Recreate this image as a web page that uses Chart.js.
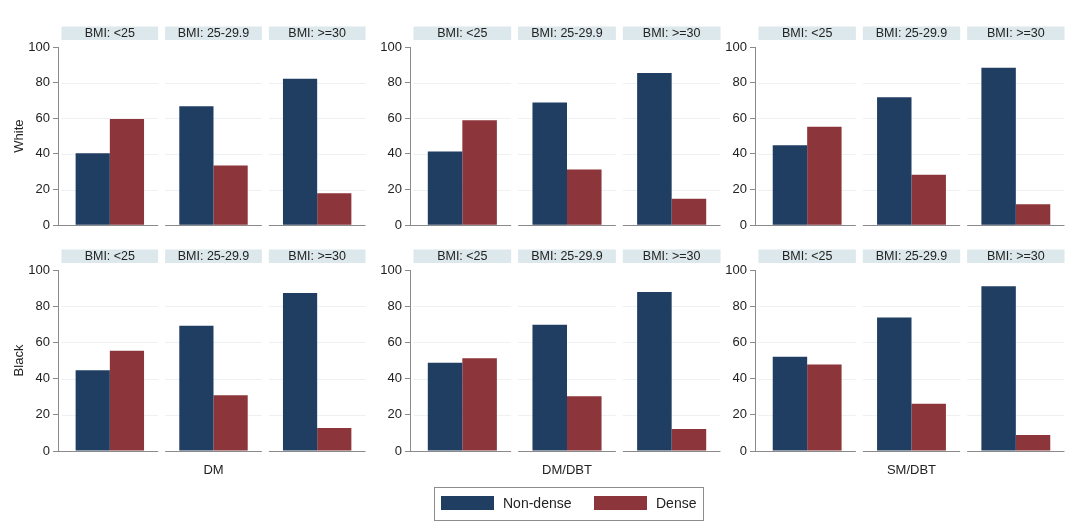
<!DOCTYPE html>
<html>
<head>
<meta charset="utf-8">
<script src="https://cdn.jsdelivr.net/npm/chart.js@4.4.1/dist/chart.umd.min.js"></script>
<style>
  body { margin: 0; background: #fff; width: 1080px; height: 524px; overflow: hidden; position: relative; font-family: "Liberation Sans", Arial, sans-serif; }
  canvas { position: absolute; }
  #leyenda { position: absolute; left: 434px; top: 487px; width: 268px; height: 32px; border: 1px solid #8c8c8c; }
  .item { position: absolute; top: 7px; font-size: 14px; color: #222; line-height: 16px; }
  .caja { display: inline-block; width: 53px; height: 14px; vertical-align: -2px; margin-right: 9px; }
</style>
</head>
<body>
<canvas id="c0"></canvas>
<canvas id="c1"></canvas>
<canvas id="c2"></canvas>
<canvas id="c3"></canvas>
<canvas id="c4"></canvas>
<canvas id="c5"></canvas>
<div id="leyenda"></div>

<script>
// datos (porcentajes)
const bmiLabels = ['BMI: <25', 'BMI: 25-29.9', 'BMI: >=30'];
const metodos = ['DM', 'DM/DBT', 'SM/DBT'];
const razas = ['White', 'Black'];
const series = ['Non-dense', 'Dense'];
const colores = ['#203d62', '#8c353b'];
const yTicks = [0, 20, 40, 60, 80, 100];

const whiteDM_nondense = [40.4, 66.8, 82.2];
const whiteDM_dense = [59.6, 33.5, 17.9];
const whiteDMDBT_nondense = [41.3, 68.8, 85.4];
const whiteDMDBT_dense = [58.9, 31.3, 14.8];
const whiteSMDBT_nondense = [44.8, 71.8, 88.3];
const whiteSMDBT_dense = [55.2, 28.3, 11.7];
const blackDM_nondense = [44.6, 69.2, 87.3];
const blackDM_dense = [55.4, 30.8, 12.7];
const blackDMDBT_nondense = [48.8, 69.8, 87.9];
const blackDMDBT_dense = [51.2, 30.3, 12.2];
const blackSMDBT_nondense = [52.1, 73.8, 91.0];
const blackSMDBT_dense = [47.8, 26.1, 8.9];

const valores = [
  [[whiteDM_nondense, whiteDM_dense], [whiteDMDBT_nondense, whiteDMDBT_dense], [whiteSMDBT_nondense, whiteSMDBT_dense]],
  [[blackDM_nondense, blackDM_dense], [blackDMDBT_nondense, blackDMDBT_dense], [blackSMDBT_nondense, blackSMDBT_dense]]
];

// posicion de cada grafico (columna / fila)
const columnas = [
  { left: 0, yw: 58, width: 369 },
  { left: 350, yw: 60, width: 374 },
  { left: 695, yw: 60, width: 373 }
];
const filas = [
  { top: 20, height: 216, padTop: 27, xh: 8 },
  { top: 242, height: 244, padTop: 28, xh: 35 }
];

const fuente = '"Liberation Sans", Arial, sans-serif';

// dibuja las franjas de titulo, grilla y linea base de cada panel
const panelesPlugin = {
  id: 'paneles',
  beforeDatasetsDraw(chart) {
    const ctx = chart.ctx;
    const x = chart.scales.x;
    const y = chart.scales.y;
    const area = chart.chartArea;
    const catW = x.width / bmiLabels.length;
    const inset = 3.5;
    ctx.save();
    bmiLabels.forEach((lab, i) => {
      const c = x.getPixelForValue(i);
      const l = c - catW / 2 + inset;
      const r = c + catW / 2 - inset;
      // grilla suave
      ctx.strokeStyle = '#eef1f3';
      ctx.lineWidth = 1;
      [20, 40, 60, 80].forEach(v => {
        const py = Math.round(y.getPixelForValue(v)) + 0.5;
        ctx.beginPath(); ctx.moveTo(l, py); ctx.lineTo(r, py); ctx.stroke();
      });
      // franja
      ctx.fillStyle = '#dce8eb';
      ctx.fillRect(l, area.top - 20.5, r - l, 13.5);
      ctx.fillStyle = '#222';
      ctx.font = '12.5px ' + fuente;
      ctx.textAlign = 'center';
      ctx.textBaseline = 'middle';
      ctx.fillText(lab, (l + r) / 2, area.top - 13.5);
      // linea base
      const y0 = Math.round(y.getPixelForValue(0)) + 0.5;
      ctx.strokeStyle = '#8a8a8a';
      ctx.beginPath(); ctx.moveTo(i === 0 ? area.left : l, y0); ctx.lineTo(r, y0); ctx.stroke();
    });
    ctx.restore();
  }
};

function crearGrafico(fila, col) {
  const idx = fila * 3 + col;
  const canvas = document.getElementById('c' + idx);
  const C = columnas[col];
  const F = filas[fila];
  canvas.width = C.width;
  canvas.height = F.height;
  canvas.style.left = C.left + 'px';
  canvas.style.top = F.top + 'px';
  canvas.style.width = C.width + 'px';
  canvas.style.height = F.height + 'px';

  new Chart(canvas.getContext('2d'), {
    type: 'bar',
    data: {
      labels: bmiLabels,
      datasets: series.map((s, k) => ({
        label: s,
        data: valores[fila][col][k],
        backgroundColor: colores[k],
        borderWidth: 0,
        categoryPercentage: 0.66,
        barPercentage: 1.0
      }))
    },
    options: {
      responsive: false,
      animation: false,
      devicePixelRatio: 1,
      layout: { padding: { top: F.padTop, right: 0, bottom: 0, left: 0 } },
      plugins: { legend: { display: false }, tooltip: { enabled: false } },
      scales: {
        x: {
          grid: { display: false },
          border: { display: false },
          ticks: { display: false },
          title: {
            display: fila === 1,
            text: metodos[col],
            color: '#222',
            font: { size: 13, family: fuente },
            padding: { top: 0, bottom: 8 }
          },
          afterFit: (axis) => { axis.height = F.xh; }
        },
        y: {
          min: 0,
          max: 100,
          afterBuildTicks: (axis) => { axis.ticks = yTicks.map(v => ({ value: v })); },
          ticks: { color: '#222', font: { size: 13, family: fuente }, padding: 3 },
          grid: { drawOnChartArea: false, drawTicks: true, tickLength: 5, color: '#8a8a8a' },
          border: { display: true, color: '#8a8a8a' },
          title: {
            display: col === 0,
            text: razas[fila],
            color: '#222',
            font: { size: 13, family: fuente },
            padding: { top: 12, bottom: 0 }
          },
          afterFit: (axis) => { axis.width = C.yw; }
        }
      }
    },
    plugins: [panelesPlugin]
  });
}

for (let f = 0; f < razas.length; f++) {
  for (let c = 0; c < metodos.length; c++) {
    crearGrafico(f, c);
  }
}

// leyenda
const leyenda = document.getElementById('leyenda');
const posLeyenda = [6, 159];
series.forEach((s, k) => {
  const div = document.createElement('div');
  div.className = 'item';
  div.style.left = posLeyenda[k] + 'px';
  const caja = document.createElement('span');
  caja.className = 'caja';
  caja.style.background = colores[k];
  div.appendChild(caja);
  div.appendChild(document.createTextNode(s));
  leyenda.appendChild(div);
});
</script>
</body>
</html>
